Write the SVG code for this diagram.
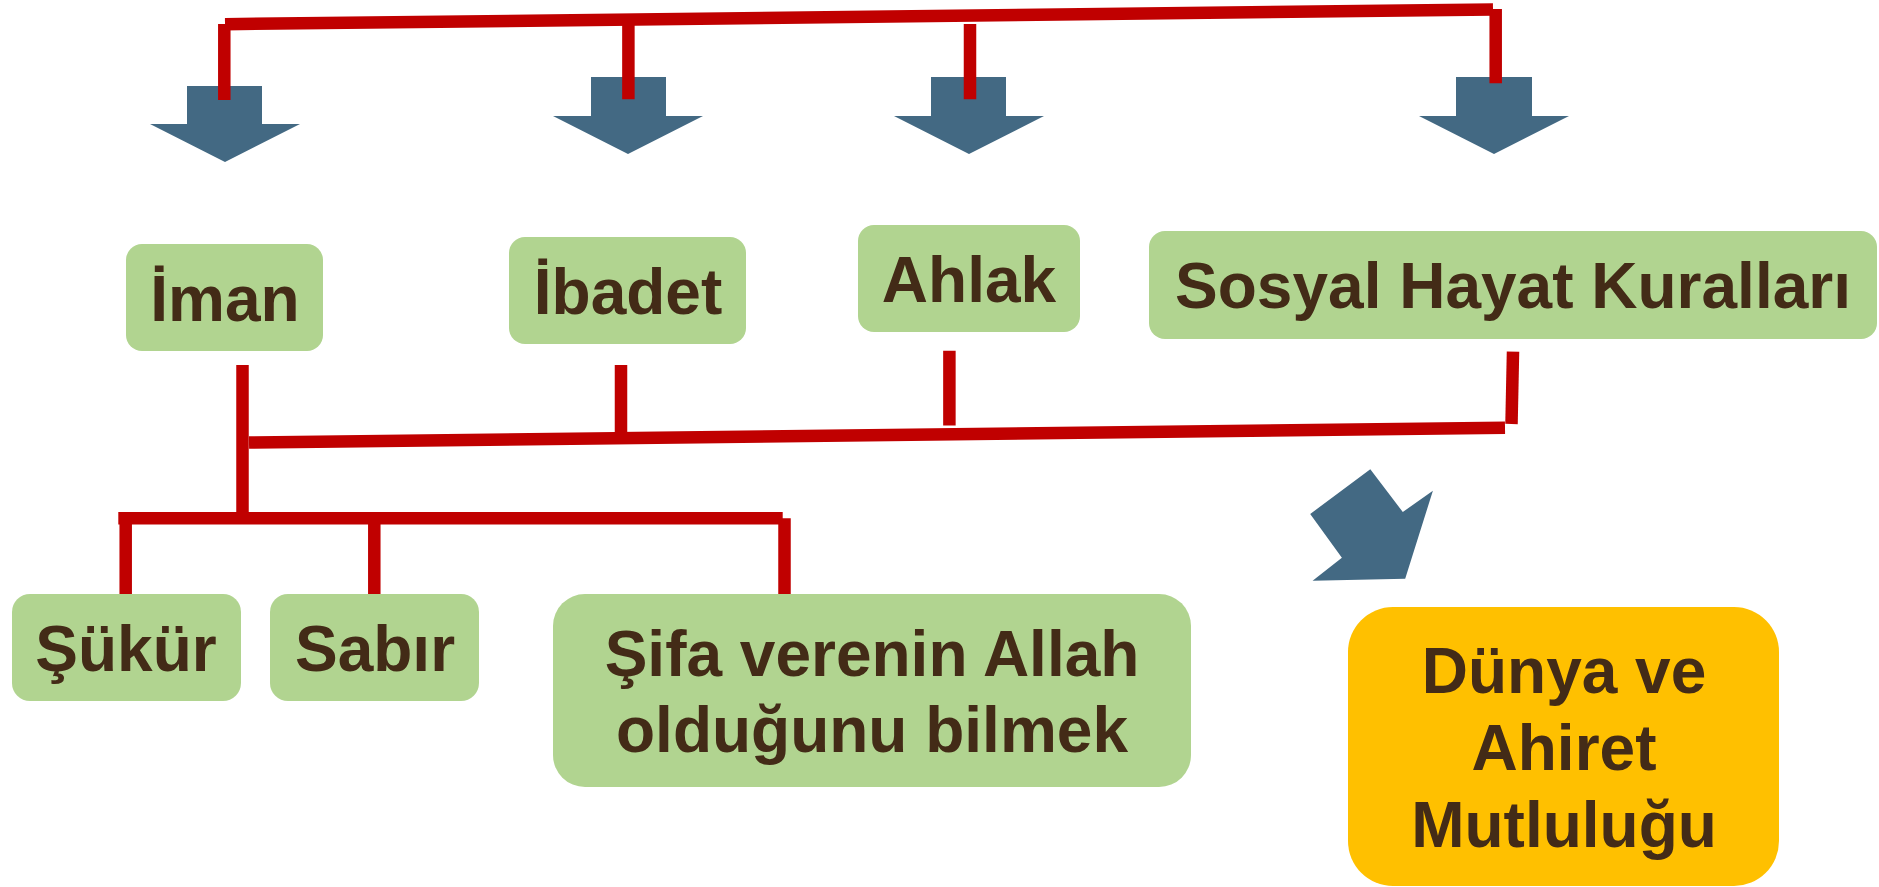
<svg xmlns="http://www.w3.org/2000/svg" width="1879" height="887" viewBox="0 0 1879 887">
<style>
.box{fill:#b1d490}
.gold{fill:#ffc000}
.lbl{font-family:"Liberation Sans",Arial,sans-serif;font-weight:bold;font-size:64px;fill:#432b17;text-anchor:middle}
.arr{fill:#436983}
.ln{stroke:#c00000;stroke-width:12.5;fill:none;stroke-linecap:butt}
</style>
<rect width="1879" height="887" fill="#ffffff"/>
<g id="arrows">
<polygon class="arr" points="187,86 262,86 262,124 300,124 225,162 150,124 187,124"/>
<polygon class="arr" points="591,77 666,77 666,116 703,116 628,154 553,116 591,116"/>
<polygon class="arr" points="931,77 1006,77 1006,116 1044,116 969,154 894,116 931,116"/>
<polygon class="arr" points="1456,77 1532,77 1532,116 1569,116 1494,154 1419,116 1456,116"/>
<polygon class="arr" points="1370.3,469.3 1402.8,512 1432.9,490.7 1405.2,578.7 1312.6,580.7 1341.9,557.7 1310.2,514"/>
</g>
<g id="node-iman"><rect class="box" x="126" y="244" width="197" height="107" rx="16"/><text class="lbl" x="225" y="321">İman</text></g>
<g id="node-ibadet"><rect class="box" x="509" y="237" width="237" height="107" rx="16"/><text class="lbl" x="628" y="314">İbadet</text></g>
<g id="node-ahlak"><rect class="box" x="858" y="225" width="222" height="107" rx="16"/><text class="lbl" x="969" y="302">Ahlak</text></g>
<g id="node-sosyal"><rect class="box" x="1149" y="231" width="728" height="108" rx="16"/><text class="lbl" x="1513" y="308">Sosyal Hayat Kuralları</text></g>
<g id="node-sukur"><rect class="box" x="12" y="594" width="229" height="107" rx="18"/><text class="lbl" x="126" y="671">Şükür</text></g>
<g id="node-sabir"><rect class="box" x="270" y="594" width="209" height="107" rx="18"/><text class="lbl" x="375" y="671">Sabır</text></g>
<g id="node-sifa"><rect class="box" x="553" y="594" width="638" height="193" rx="32"/><text class="lbl" x="872" y="676">Şifa verenin Allah</text><text class="lbl" x="872" y="752">olduğunu bilmek</text></g>
<g id="node-mutluluk"><rect class="gold" x="1348" y="607" width="431" height="279" rx="45"/><text class="lbl" x="1564" y="693">Dünya ve</text><text class="lbl" x="1564" y="770">Ahiret</text><text class="lbl" x="1564" y="847">Mutluluğu</text></g>
<g id="connectors">
<line class="ln" x1="225" y1="24.2" x2="1493" y2="9.5"/>
<line class="ln" x1="224.3" y1="24" x2="224.3" y2="100"/>
<line class="ln" x1="628.4" y1="19" x2="628.4" y2="99.3"/>
<line class="ln" x1="970" y1="24" x2="970" y2="99.3"/>
<line class="ln" x1="1495.7" y1="9" x2="1495.7" y2="83.3"/>
<line class="ln" x1="242.5" y1="365" x2="242.5" y2="518"/>
<line class="ln" x1="621" y1="365" x2="621" y2="436"/>
<line class="ln" x1="949.4" y1="350.7" x2="949.4" y2="425.4"/>
<line class="ln" x1="1513" y1="351.7" x2="1511.5" y2="424"/>
<line class="ln" x1="249" y1="442.5" x2="1505" y2="427.8"/>
<line class="ln" x1="118.3" y1="518.3" x2="782.7" y2="518.3"/>
<line class="ln" x1="125.7" y1="524" x2="125.7" y2="594"/>
<line class="ln" x1="374.3" y1="524" x2="374.3" y2="594"/>
<line class="ln" x1="784.5" y1="518.3" x2="784.5" y2="594"/>
</g>
</svg>
